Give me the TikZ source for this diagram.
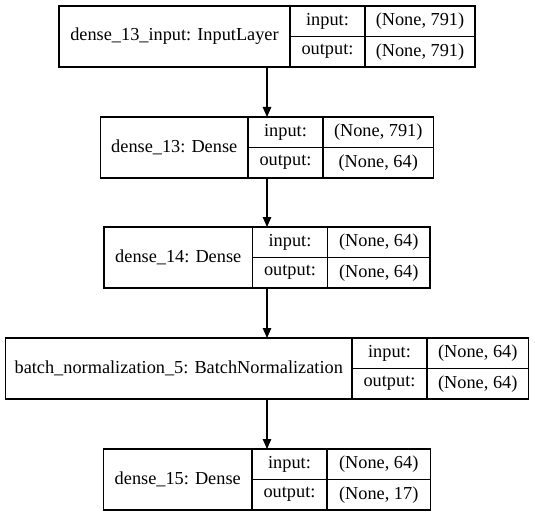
\documentclass[tikz,border=0pt]{standalone}
\usepackage{fontspec}
\setmainfont{Liberation Serif}
\usetikzlibrary{arrows.meta}
\usetikzlibrary{positioning}
\tikzset{>={Triangle[length=10pt,width=8.5pt]}}
\tikzstyle{layerbox}=[draw,line width=1.2pt,minimum height=61pt,inner sep=0pt,outer sep=0pt]
\tikzstyle{cell}=[draw,line width=1.2pt,inner sep=0pt,outer sep=0pt,font=\fontsize{18.3}{22}\selectfont]
\tikzstyle{namecell}=[cell,anchor=north west,minimum height=61pt]
\tikzstyle{half}=[cell,minimum height=30.5pt,minimum width=75pt]
\tikzstyle{flow}=[->,line width=1.2pt]

\begin{document}
\begin{tikzpicture}[x=1pt,y=-1pt]
  \useasboundingbox (0,0) rectangle (535,516);

  % input layer
  \node[layerbox,minimum width=416pt] (inp) at (267,36.5) {};
  \node[namecell,minimum width=231pt] (inp-name) at (inp.north west) {dense\_13\_input: InputLayer};
  \node[half,anchor=north west] (inp-in) at (inp-name.north east) {input:};
  \node[half,below=0pt of inp-in] (inp-out) {output:};
  \node[half,right=0pt of inp-in,minimum width=110pt] (inp-inv) {(None, 791)};
  \node[half,right=0pt of inp-out,minimum width=110pt] (inp-outv) {(None, 791)};

  % dense_13
  \node[layerbox,minimum width=333pt] (d13) at (267,147.5) {};
  \node[namecell,minimum width=147.5pt] (d13-name) at (d13.north west) {dense\_13: Dense};
  \node[half,anchor=north west] (d13-in) at (d13-name.north east) {input:};
  \node[half,below=0pt of d13-in] (d13-out) {output:};
  \node[half,right=0pt of d13-in,minimum width=110.5pt] (d13-inv) {(None, 791)};
  \node[half,right=0pt of d13-out,minimum width=110.5pt] (d13-outv) {(None, 64)};

  % dense_14
  \node[layerbox,minimum width=326pt] (d14) at (267,257.5) {};
  \node[namecell,minimum width=148.5pt] (d14-name) at (d14.north west) {dense\_14: Dense};
  \node[half,anchor=north west] (d14-in) at (d14-name.north east) {input:};
  \node[half,below=0pt of d14-in] (d14-out) {output:};
  \node[half,right=0pt of d14-in,minimum width=102.5pt] (d14-inv) {(None, 64)};
  \node[half,right=0pt of d14-out,minimum width=102.5pt] (d14-outv) {(None, 64)};

  % batch norm
  \node[layerbox,minimum width=523pt] (bn) at (267,368.5) {};
  \node[namecell,minimum width=346.5pt] (bn-name) at (bn.north west) {batch\_normalization\_5: BatchNormalization};
  \node[half,anchor=north west] (bn-in) at (bn-name.north east) {input:};
  \node[half,below=0pt of bn-in] (bn-out) {output:};
  \node[half,right=0pt of bn-in,minimum width=101.5pt] (bn-inv) {(None, 64)};
  \node[half,right=0pt of bn-out,minimum width=101.5pt] (bn-outv) {(None, 64)};

  % dense_15
  \node[layerbox,minimum width=327pt] (d15) at (267,479.5) {};
  \node[namecell,minimum width=148.5pt] (d15-name) at (d15.north west) {dense\_15: Dense};
  \node[half,anchor=north west] (d15-in) at (d15-name.north east) {input:};
  \node[half,below=0pt of d15-in] (d15-out) {output:};
  \node[half,right=0pt of d15-in,minimum width=103.5pt] (d15-inv) {(None, 64)};
  \node[half,right=0pt of d15-out,minimum width=103.5pt] (d15-outv) {(None, 17)};

  \draw[flow] (inp) -- (d13);
  \draw[flow] (d13) -- (d14);
  \draw[flow] (d14) -- (bn);
  \draw[flow] (bn) -- (d15);
\end{tikzpicture}
\end{document}
